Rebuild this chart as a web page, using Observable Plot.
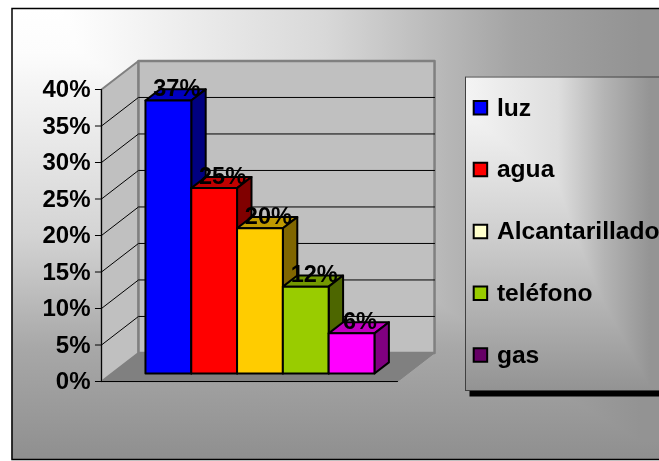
<!DOCTYPE html>
<html><head><meta charset="utf-8">
<script src="https://cdn.jsdelivr.net/npm/d3@7"></script>
<script src="https://cdn.jsdelivr.net/npm/@observablehq/plot@0.6"></script>
<style>html,body{margin:0;padding:0;background:#fff}svg{display:block}</style>
</head><body><div id="chart"></div>
<script>
const categories = ["luz","agua","Alcantarillado","teléfono","gas"];
const values = [37.4,25.4,19.9,11.9,5.5];
const frontColors = ["#0000ff","#ff0000","#ffcc00","#99cc00","#ff00ff"];
const topColors = ["#0000c0","#c00000","#c09a00","#739900","#c000c0"];
const sideColors = ["#000080","#800000","#806600","#4d6600","#800080"];
const legendColors = ["#0000ff","#ff0000","#ffffcc","#99cc00","#660066"];
const yTicks = [0,5,10,15,20,25,30,35,40];
const font = "Liberation Sans, Arial, sans-serif";

// oblique projection, in data units: depth 0 is the front wall, depth 1 the back wall
const DX = 0.808, DY = 3.91, WL = -0.734, WR = 5.73, YMAX = 40;
const D1 = 0.28, D2 = 0.67;
const pt = (pos, pct, d) => ({x: pos + d * DX, y: pct + d * DY});
const face = (pts, fill, stroke, strokeWidth) =>
  Plot.line(pts, {x:"x", y:"y", fill, stroke, strokeWidth, curve:"linear-closed"});

function gradient(id, x1, x2, y1, y2, stops) {
  const s = stops.map(([o,c]) => `<stop offset="${o}" stop-color="${c}"/>`).join("");
  return `<linearGradient id="${id}" gradientUnits="userSpaceOnUse" x1="${x1}" y1="${y1}" x2="${x2}" y2="${y2}">${s}</linearGradient>`;
}
const defs = () => {
  const g = document.createElementNS("http://www.w3.org/2000/svg","g");
  g.innerHTML = "<defs>" +
    gradient("bgH",11,640,0,0,[[0,"#ffffff"],[0.08,"#ffffff"],[0.5,"#d8d8d8"],[0.8,"#a4a4a4"],[1,"#939393"]]) +
    gradient("bgV",0,0,8,459,[[0,"#ffffff"],[0.1,"#fcfcfc"],[0.5,"#d4d4d4"],[0.75,"#a8a8a8"],[1,"#8f8f8f"]]) +
    gradient("lgH",465,650,0,0,[[0,"#f4f4f4"],[0.5,"#dedede"],[0.75,"#b4b4b4"],[1,"#949494"]]) +
    gradient("lgV",0,0,76,390,[[0,"#ffffff"],[0.5,"#cfcfcf"],[1,"#939393"]]) +
    "</defs>";
  return g;
};

const grey = "#808080", wall = "#c0c0c0";
const marks = [
  defs,
  Plot.frame({fill:"url(#bgH)", stroke:"none", insetLeft:11, insetTop:8, insetBottom:2}),
  Plot.frame({fill:"url(#bgV)", stroke:"none", insetLeft:11, insetTop:8, insetBottom:2, mixBlendMode:"darken"}),
  Plot.frame({stroke:"#000", strokeWidth:1.5, insetLeft:11.5, insetTop:8, insetBottom:2, insetRight:-4}),
  // floor, side wall, back wall
  face([pt(WL,0,0),pt(WL,0,1),pt(WR,0,1),pt(WR,0,0)], grey, grey, 1),
  face([pt(WL,0,0),pt(WL,YMAX,0),pt(WL,YMAX,1),pt(WL,0,1)], wall, grey, 2),
  face([pt(WL,0,1),pt(WL,YMAX,1),pt(WR,YMAX,1),pt(WR,0,1)], wall, grey, 2.5),
  // grid lines on both walls
  ...yTicks.slice(1,-1).map(t => Plot.line([pt(WL,t,0),pt(WL,t,1),pt(WR,t,1)], {x:"x",y:"y",stroke:"#000",strokeWidth:1})),
  // front edges and value axis
  Plot.line([pt(WL,0,0),pt(WR,0,0)], {x:"x",y:"y",stroke:"#000",strokeWidth:1}),
  Plot.line([pt(WL,0,0),pt(WL,YMAX,0)], {x:"x",y:"y",stroke:"#000",strokeWidth:1}),
  Plot.axisY({x:WL, anchor:"left", ticks:yTicks, tickFormat:d=>d+"%", tickSize:6, tickPadding:5, label:null,
    fontSize:24, fontWeight:"bold", fontFamily:font, fill:"#000", stroke:"#000", strokeWidth:1}),
  // bars, left to right
  ...categories.flatMap((c,i) => {
    const v = values[i];
    return [
      face([pt(i,v,D1),pt(i,v,D2),pt(i+1,v,D2),pt(i+1,v,D1)], topColors[i], "#000", 2),
      face([pt(i+1,0,D1),pt(i+1,v,D1),pt(i+1,v,D2),pt(i+1,0,D2)], sideColors[i], "#000", 2),
      face([pt(i,0,D1),pt(i,v,D1),pt(i+1,v,D1),pt(i+1,0,D1)], frontColors[i], "#000", 2)
    ];
  }),
  // legend
  Plot.frame({fill:"#000", stroke:"none", insetLeft:469, insetTop:380, insetBottom:65, insetRight:-4}),
  Plot.frame({fill:"url(#lgH)", stroke:"none", insetLeft:465, insetTop:76, insetBottom:71, insetRight:-4}),
  Plot.frame({fill:"url(#lgV)", stroke:"none", insetLeft:465, insetTop:76, insetBottom:71, insetRight:-4, mixBlendMode:"darken"}),
  Plot.frame({stroke:"#404040", strokeWidth:1, insetLeft:465, insetTop:76.5, insetBottom:71, insetRight:-4}),
  Plot.dot(categories, {x:()=>7.54, y:(d,i)=>37.5-8.47*i, symbol:"square", r:7.6,
    fill:(d,i)=>legendColors[i], stroke:"#000", strokeWidth:2}),
  Plot.text(categories, {x:()=>7.9, y:(d,i)=>37.5-8.47*i, text:d=>d, textAnchor:"start",
    fontSize:24.6, fontWeight:"bold", fontFamily:font, fill:"#000"}),
  // value labels, above everything else
  Plot.text(categories, {x:(d,i)=>pt(i+0.5,0,D1+0.2).x, y:(d,i)=>pt(0,values[i],D1+0.2).y,
    text:(d,i)=>Math.round(values[i])+"%", dx:1, dy:-6, fontSize:23.5, fontWeight:"bold", fontFamily:font, fill:"#000"})
];

const chart = Plot.plot({
  width:659, height:461, margin:0,
  style:{background:"#fff", overflow:"hidden"},
  x:{type:"linear", domain:[0,5], range:[134.6,363.6], axis:null},
  y:{type:"linear", domain:[0,40], range:[381,89], axis:null},
  color:{type:"identity"},
  marks
});
document.getElementById("chart").append(chart);
</script></body></html>
